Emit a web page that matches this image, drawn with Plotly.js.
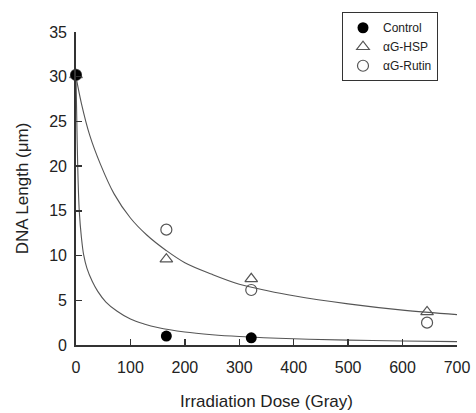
<!DOCTYPE html>
<html>
<head>
<meta charset="utf-8">
<script src="https://cdn.plot.ly/plotly-3.0.1.min.js"></script>
<style>html,body{margin:0;padding:0;background:#fff;}#chart{width:476px;height:413px;}</style>
</head>
<body>
<div id="chart"></div>
<script>
// Measured data points
const doses = [0, 166, 322, 645];
const controlDoses = [0, 166, 322];
const controlLen = [30.2, 1.0, 0.8];
const hspLen = [30.2, 9.6, 7.4, 3.7];
const rutinLen = [30.2, 12.9, 6.15, 2.5];

// Fitted curves, points
const upperX = [0, 10, 25, 45, 70, 100, 130, 165, 200, 250, 300, 350, 400, 500, 600, 700];
const upperY = [30, 27.0, 23.5, 20.2, 16.9, 14.2, 12.3, 10.6, 9.2, 7.9, 6.8, 6.1, 5.5, 4.6, 3.9, 3.4];
const lowerX = [0, 1.5, 3, 6, 10, 14, 20, 30, 40, 55, 75, 100, 125, 150, 200, 250, 300, 400, 500, 600, 700];
const lowerY = [30, 25, 20.4, 15, 12, 10.1, 8.6, 7.1, 6.0, 4.8, 3.8, 2.9, 2.35, 1.95, 1.45, 1.15, 0.95, 0.7, 0.55, 0.45, 0.38];

const xTicks = [0, 100, 200, 300, 400, 500, 600, 700];
const yTicks = [0, 5, 10, 15, 20, 25, 30, 35];

const font = 'Liberation Sans, Arial, sans-serif';

const traces = [
  {x: upperX, y: upperY, mode: 'lines', line: {color: '#555', width: 1.1, shape: 'spline'}, showlegend: false, hoverinfo: 'skip'},
  {x: lowerX, y: lowerY, mode: 'lines', line: {color: '#555', width: 1.1, shape: 'spline'}, showlegend: false, hoverinfo: 'skip'},
  {x: doses, y: hspLen, mode: 'markers', name: '\u03b1G-HSP', legendrank: 2,
   marker: {symbol: 'triangle-up-open', size: 11, color: '#555', line: {width: 1.2}}, cliponaxis: false},
  {x: doses, y: rutinLen, mode: 'markers', name: '\u03b1G-Rutin', legendrank: 3,
   marker: {symbol: 'circle-open', size: 11, color: '#555', line: {width: 1.2}}, cliponaxis: false},
  {x: controlDoses, y: controlLen, mode: 'markers', name: 'Control', legendrank: 1,
   marker: {symbol: 'circle', size: 11, color: '#000'}, cliponaxis: false}
];

const layout = {
  width: 476, height: 413,
  margin: {l: 76, r: 19, t: 28, b: 68},
  paper_bgcolor: '#fff', plot_bgcolor: '#fff',
  font: {family: font, color: '#222', size: 16},
  showlegend: true,
  legend: {bordercolor: '#333', borderwidth: 1,
           font: {size: 12, family: font, color: '#222'}, itemwidth: 30, tracegroupgap: 0, traceorder: 'normal'},
  xaxis: {
    range: [0, 700], tickvals: xTicks, ticktext: xTicks.map(String),
    ticks: 'inside', ticklen: 6, tickwidth: 1.3, tickcolor: '#333',
    showline: true, linecolor: '#333', linewidth: 1.8, showgrid: false, zeroline: false,
    ticklabelstandoff: 7,
    tickfont: {size: 16, family: font},
    title: {text: 'Irradiation Dose (Gray)', font: {size: 17, family: font}, standoff: 20}
  },
  yaxis: {
    range: [0, 35], tickvals: yTicks, ticktext: yTicks.map(String),
    ticks: 'inside', ticklen: 6, tickwidth: 1.3, tickcolor: '#333',
    showline: true, linecolor: '#333', linewidth: 1.8, showgrid: false, zeroline: false,
    ticklabelstandoff: 4,
    tickfont: {size: 16, family: font},
    title: {text: 'DNA Length (\u03bcm)', font: {size: 17, family: font}, standoff: 16}
  }
};
// convert legend pixel placement into paper coordinates
const pw = 476 - 76 - 19, ph = 413 - 28 - 68;
layout.legend.x = (342 - 76) / pw;
layout.legend.y = (28 - 8) / ph + 1;
layout.legend.xanchor = 'left';
layout.legend.yanchor = 'top';

Plotly.newPlot('chart', traces, layout, {displayModeBar: false, staticPlot: true});
</script>
</body>
</html>
